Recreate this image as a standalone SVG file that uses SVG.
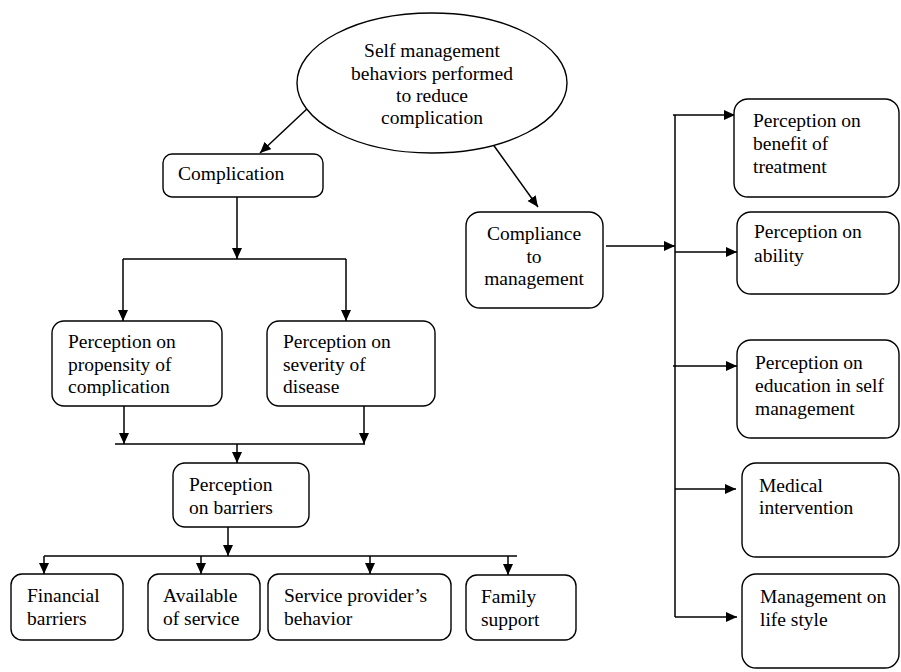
<svg xmlns="http://www.w3.org/2000/svg" width="901" height="672" viewBox="0 0 901 672">
<style>
.box{fill:#fff;stroke:#000;stroke-width:1.4}
.t{font-family:"Liberation Serif","Times New Roman",serif;font-size:19.5px;fill:#000}
.c{text-anchor:middle}
.ln{fill:none;stroke:#000;stroke-width:1.5}
.ar{fill:none;stroke:#000;stroke-width:1.5;marker-end:url(#ah)}
</style>
<defs>
<marker id="ah" markerUnits="userSpaceOnUse" markerWidth="12" markerHeight="11" refX="11" refY="5" orient="auto">
<path d="M0,0 L11,5 L0,10 z" fill="#000"/>
</marker>
<clipPath id="clipL"><rect x="52" y="321" width="384" height="75"/></clipPath>
</defs>
<rect width="901" height="672" fill="#fff"/>

<g id="connectors">
<line class="ar" x1="309" y1="107" x2="260" y2="153"/>
<line class="ar" x1="492" y1="143" x2="538" y2="207"/>
<line class="ar" x1="237" y1="197" x2="237" y2="259"/>
<line class="ln" x1="123" y1="259" x2="346" y2="259"/>
<line class="ar" x1="123" y1="259" x2="123" y2="321"/>
<line class="ar" x1="346" y1="259" x2="346" y2="321"/>
<line class="ar" x1="124" y1="405" x2="124" y2="444"/>
<line class="ar" x1="364" y1="403" x2="364" y2="444"/>
<line class="ln" x1="115" y1="444" x2="365" y2="444"/>
<line class="ar" x1="237" y1="444" x2="237" y2="463"/>
<line class="ar" x1="228" y1="527" x2="228" y2="556"/>
<line class="ln" x1="44" y1="556" x2="517" y2="556"/>
<line class="ar" x1="44" y1="556" x2="44" y2="574"/>
<line class="ar" x1="201" y1="556" x2="201" y2="574"/>
<line class="ar" x1="370" y1="556" x2="370" y2="574"/>
<line class="ar" x1="508" y1="556" x2="508" y2="575"/>
<line class="ar" x1="606" y1="246" x2="675" y2="246"/>
<line class="ln" x1="675" y1="115" x2="675" y2="617"/>
<line class="ar" x1="673" y1="115" x2="735" y2="115"/>
<line class="ar" x1="675" y1="252" x2="737" y2="252"/>
<line class="ar" x1="673" y1="366" x2="737" y2="366"/>
<line class="ar" x1="675" y1="489" x2="736" y2="489"/>
<line class="ar" x1="675" y1="617" x2="737" y2="617"/>
</g>

<g id="self-management">
<ellipse class="box" cx="432" cy="83" rx="135" ry="70"/>
<text class="t c" x="432" y="57">Self management</text>
<text class="t c" x="432" y="80">behaviors performed</text>
<text class="t c" x="432" y="102">to reduce</text>
<text class="t c" x="432" y="124">complication</text>
</g>

<g id="complication">
<rect class="box" x="163" y="154" width="160" height="43" rx="9"/>
<text class="t" x="178" y="180">Complication</text>
</g>

<g id="propensity">
<rect class="box" x="52" y="321" width="170" height="85" rx="12"/>
<g clip-path="url(#clipL)">
<text class="t" x="68" y="348">Perception on</text>
<text class="t" x="68" y="371">propensity of</text>
<text class="t" x="68" y="393">complication</text>
</g>
</g>

<g id="severity">
<rect class="box" x="267" y="321" width="168" height="85" rx="12"/>
<text class="t" x="283" y="348">Perception on</text>
<text class="t" x="283" y="371">severity of</text>
<text class="t" x="283" y="393">disease</text>
</g>

<g id="barriers">
<rect class="box" x="173" y="463" width="136" height="64" rx="12"/>
<text class="t" x="189" y="491">Perception</text>
<text class="t" x="189" y="514">on barriers</text>
</g>

<g id="financial">
<rect class="box" x="11" y="574" width="112" height="66" rx="11"/>
<text class="t" x="27" y="602">Financial</text>
<text class="t" x="27" y="625">barriers</text>
</g>

<g id="available">
<rect class="box" x="148" y="574" width="112" height="66" rx="11"/>
<text class="t" x="163" y="602">Available</text>
<text class="t" x="163" y="625">of service</text>
</g>

<g id="service-provider">
<rect class="box" x="268" y="574" width="183" height="66" rx="11"/>
<text class="t" x="284" y="602">Service provider’s</text>
<text class="t" x="284" y="625">behavior</text>
</g>

<g id="family">
<rect class="box" x="466" y="575" width="110" height="65" rx="11"/>
<text class="t" x="481" y="603">Family</text>
<text class="t" x="481" y="626">support</text>
</g>

<g id="compliance">
<rect class="box" x="466" y="212" width="137" height="96" rx="14"/>
<text class="t c" x="534" y="240">Compliance</text>
<text class="t c" x="534" y="263">to</text>
<text class="t c" x="534" y="285">management</text>
</g>

<g id="benefit">
<rect class="box" x="734" y="99" width="165" height="98" rx="14"/>
<text class="t" x="753" y="127">Perception on</text>
<text class="t" x="753" y="150">benefit of</text>
<text class="t" x="753" y="173">treatment</text>
</g>

<g id="ability">
<rect class="box" x="737" y="212" width="162" height="82" rx="14"/>
<text class="t" x="754" y="238">Perception on</text>
<text class="t" x="754" y="262">ability</text>
</g>

<g id="education">
<rect class="box" x="737" y="340" width="162" height="98" rx="14"/>
<text class="t" x="755" y="369">Perception on</text>
<text class="t" x="755" y="392">education in self</text>
<text class="t" x="755" y="415">management</text>
</g>

<g id="medical">
<rect class="box" x="742" y="463" width="157" height="94" rx="14"/>
<text class="t" x="759" y="492">Medical</text>
<text class="t" x="759" y="514">intervention</text>
</g>

<g id="lifestyle">
<rect class="box" x="742" y="574" width="157" height="94" rx="14"/>
<text class="t" x="760" y="603">Management on</text>
<text class="t" x="760" y="626">life style</text>
</g>
</svg>
